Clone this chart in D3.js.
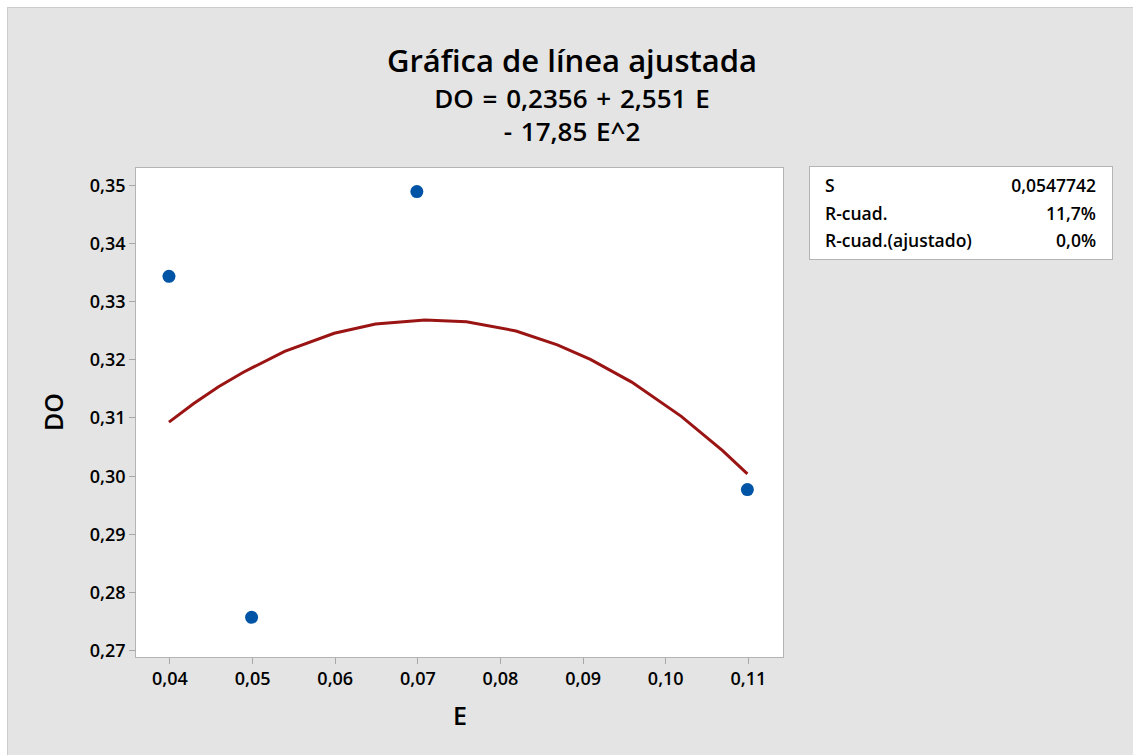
<!DOCTYPE html>
<html>
  <head>
    <script src="https://d3js.org/d3.v7.min.js" charset="utf-8"></script>
    <style type="text/css">
      body {
        margin: 0;
        background: #ffffff;
        font-family: "Open Sans", "Noto Sans", sans-serif;
      }
      .axis path, .axis line {
        fill: none;
        stroke: #a8a8a8;
        shape-rendering: crispEdges;
      }
      .axis text {
        font-family: "Open Sans", "Noto Sans", sans-serif;
        font-size: 18px;
        font-weight: 600;
        fill: #000;
      }
    </style>
  </head>
  <body>
    <script type="text/javascript">
      var w = 1133, h = 755;

      // observed points
      var eValues  = [0.04, 0.05, 0.07, 0.11];
      var doValues = [0.3342, 0.2755, 0.3488, 0.2975];

      // fitted curve vertices
      var fitE  = [0.040, 0.043, 0.046, 0.049, 0.054, 0.060, 0.065, 0.071, 0.076, 0.082, 0.087, 0.091, 0.096, 0.102, 0.107, 0.110];
      var fitDO = [0.3091, 0.3123, 0.3152, 0.3177, 0.3213, 0.3244, 0.3260, 0.3267, 0.3264, 0.3248, 0.3224, 0.3199, 0.3160, 0.3101, 0.3042, 0.3002];

      var xTicks = [0.04, 0.05, 0.06, 0.07, 0.08, 0.09, 0.10, 0.11];
      var yTicks = [0.27, 0.28, 0.29, 0.30, 0.31, 0.32, 0.33, 0.34, 0.35];

      var statLabels = ["S", "R-cuad.", "R-cuad.(ajustado)"];
      var statValues = ["0,0547742", "11,7%", "0,0%"];

      var titleLines = ["DO = 0,2356 + 2,551 E", "- 17,85 E^2"];

      var plot = { left: 135, top: 167, right: 783, bottom: 657 };

      var svg = d3.select("body").append("svg")
          .attr("width", w)
          .attr("height", h);

      // grey background panel
      svg.append("rect")
          .attr("x", 7.5).attr("y", 7.5)
          .attr("width", w + 10).attr("height", h + 10)
          .attr("fill", "#e4e4e4")
          .attr("stroke", "#cccccc");

      var xScale = d3.scaleLinear()
          .domain([0.03589, 0.11431])
          .range([plot.left, plot.right]);

      var yScale = d3.scaleLinear()
          .domain([0.26867, 0.35303])
          .range([plot.bottom, plot.top]);

      // plot area
      svg.append("rect")
          .attr("x", plot.left + 0.5).attr("y", plot.top + 0.5)
          .attr("width", plot.right - plot.left).attr("height", plot.bottom - plot.top)
          .attr("fill", "#ffffff")
          .attr("stroke", "#b4b4b4");

      var fmt = function (d) { return d.toFixed(2).replace(".", ","); };

      var xAxis = d3.axisBottom(xScale).tickValues(xTicks).tickFormat(fmt)
          .tickSize(6).tickPadding(9).tickSizeOuter(0);
      var yAxis = d3.axisLeft(yScale).tickValues(yTicks).tickFormat(fmt)
          .tickSize(7).tickPadding(3).tickSizeOuter(0);

      var gx = svg.append("g")
         .attr("class", "axis")
         .attr("transform", "translate(" + [0.5, plot.bottom + 0.5] + ")")
         .call(xAxis);
      gx.select(".domain").remove();

      var gy = svg.append("g")
         .attr("class", "axis")
         .attr("transform", "translate(" + [plot.left + 0.5, 0.5] + ")")
         .call(yAxis);
      gy.select(".domain").remove();
      gy.selectAll("text").attr("dy", "0.36em");

      // fitted curve
      var line = d3.line()
          .x(function (d, i) { return xScale(fitE[i]); })
          .y(function (d) { return yScale(d); });

      svg.append("path")
          .datum(fitDO)
          .attr("d", line)
          .attr("fill", "none")
          .attr("stroke", "#9b1414")
          .attr("stroke-width", 3);

      // points
      svg.selectAll("circle.pt")
          .data(doValues)
          .enter()
          .append("circle")
          .attr("class", "pt")
          .attr("cx", function (d, i) { return xScale(eValues[i]); })
          .attr("cy", function (d) { return yScale(d); })
          .attr("r", 6.5)
          .attr("fill", "#0054a6");

      // titles
      svg.append("text")
          .attr("x", 572).attr("y", 72)
          .attr("text-anchor", "middle")
          .attr("font-size", 31).attr("font-weight", 600)
          .text("Gráfica de línea ajustada");

      svg.selectAll("text.sub")
          .data(titleLines)
          .enter()
          .append("text")
          .attr("class", "sub")
          .attr("x", 572)
          .attr("y", function (d, i) { return 108 + i * 33; })
          .attr("text-anchor", "middle")
          .attr("font-size", 26).attr("font-weight", 600)
          .attr("word-spacing", 2)
          .text(function (d) { return d; });

      // axis labels
      svg.append("text")
          .attr("x", 460).attr("y", 725)
          .attr("text-anchor", "middle")
          .attr("font-size", 25).attr("font-weight", 600)
          .text("E");

      svg.append("text")
          .attr("transform", "translate(63,412) rotate(-90)")
          .attr("text-anchor", "middle")
          .attr("font-size", 25).attr("font-weight", 600)
          .text("DO");

      // stats box
      svg.append("rect")
          .attr("x", 809.5).attr("y", 166.5)
          .attr("width", 303).attr("height", 93)
          .attr("fill", "#ffffff")
          .attr("stroke", "#b4b4b4");

      var rows = svg.selectAll("g.stat")
          .data(statLabels)
          .enter()
          .append("g")
          .attr("class", "stat")
          .attr("transform", function (d, i) { return "translate(0," + (192 + i * 27.5) + ")"; });

      rows.append("text")
          .attr("x", 825)
          .attr("font-size", 17.5).attr("font-weight", 600)
          .text(function (d) { return d; });

      rows.append("text")
          .attr("x", 1096)
          .attr("text-anchor", "end")
          .attr("font-size", 17.5).attr("font-weight", 600)
          .text(function (d, i) { return statValues[i]; });
    </script>
  </body>
</html>
